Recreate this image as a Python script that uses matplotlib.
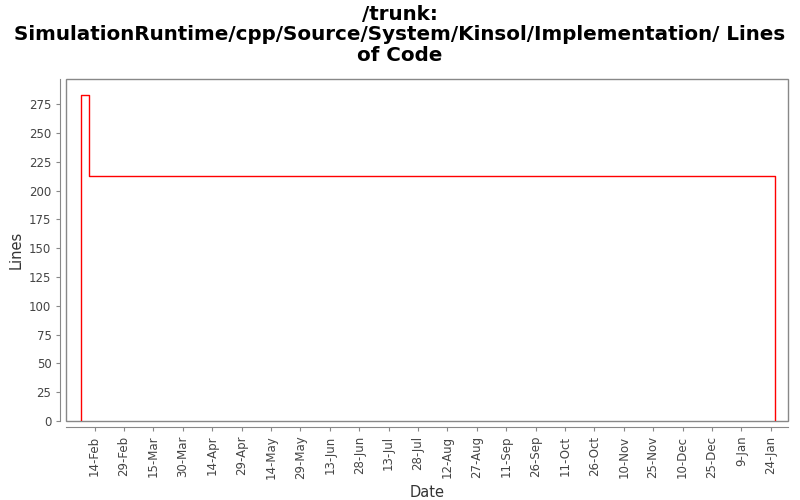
import pandas as pd
import matplotlib
matplotlib.use("Agg")
import matplotlib.pyplot as plt
import matplotlib.dates as mdates
from matplotlib.patches import Rectangle

# step series
dates = pd.to_datetime(["2012-02-07", "2012-02-07", "2012-02-11", "2013-01-26"])
lines = [0, 283, 213, 0]

tick_dates = pd.date_range("2012-02-14", "2013-01-24", freq="15D")

fig = plt.figure(figsize=(8, 5), dpi=100)
ax = fig.add_axes([0.0825, 0.158, 0.9025, 0.684])

ax.step(dates, lines, where="post", color="red", linewidth=1)

ax.set_xlim(pd.Timestamp("2012-01-30 10:00"), pd.Timestamp("2013-02-01 20:00"))
ax.set_ylim(0, 297)
ax.set_yticks(range(0, 276, 25))
ax.set_xticks(tick_dates)
ax.xaxis.set_major_formatter(mdates.DateFormatter("%-d-%b"))

ax.tick_params(labelsize=8.5, colors="#444444", length=3)
ax.tick_params(axis="both", color="#888888")
ax.tick_params(axis="x", labelrotation=90)

for side in ["top", "right"]:
    ax.spines[side].set_visible(False)
for side in ["left", "bottom"]:
    ax.spines[side].set_position(("outward", 4))
    ax.spines[side].set_color("#888888")
ax.add_patch(Rectangle((0, 0), 1, 1, transform=ax.transAxes, fill=False,
                       edgecolor="#888888", linewidth=1, clip_on=False))

ax.set_xlabel("Date", fontsize=10.5, color="#333333")
ax.set_ylabel("Lines", fontsize=10.5, color="#333333")
fig.suptitle("/trunk:\nSimulationRuntime/cpp/Source/System/Kinsol/Implementation/ Lines\nof Code",
             fontsize=14.3, fontweight="bold", y=0.99, linespacing=1.1)

fig.savefig("out.png")
